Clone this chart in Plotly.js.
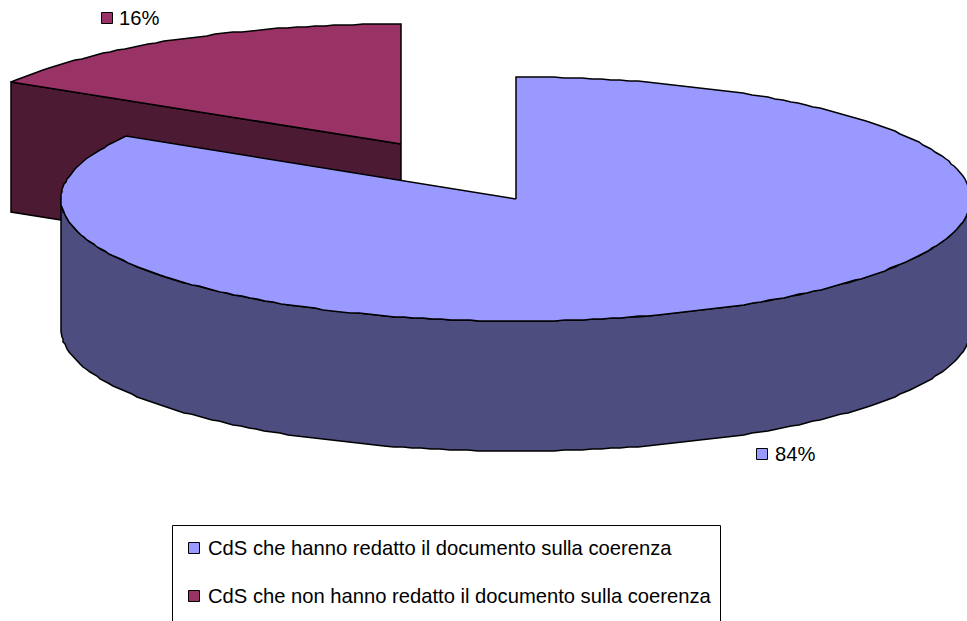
<!DOCTYPE html>
<html>
<head>
<meta charset="utf-8">
<script src="https://cdn.plot.ly/plotly-3.0.1.min.js"></script>
<style>html,body{margin:0;padding:0;background:#fff}#chart{width:967px;height:621px}</style>
</head>
<body>
<div id="chart"></div>
<script>
const categories = ["CdS che hanno redatto il documento sulla coerenza", "CdS che non hanno redatto il documento sulla coerenza"];
const shares = [83.6, 16.4];
const topColors = ["#9999FF", "#993366"];
const wallColors = ["#4D4D80", "#4D1A33"];

const W = 967, H = 621;
const RX = 455, DEPTH = 130;
const mainPie = {cx: 516, cy: 199, ry: 122};
const outPie = {cx: 401, cy: 144, ry: 120};
const endAngle = shares[0] / (shares[0] + shares[1]) * 360;

function pt(p, deg, dy){
  const r = deg * Math.PI / 180;
  return [Math.round(p.cx + RX * Math.sin(r)), Math.round(p.cy - p.ry * Math.cos(r)) + (dy || 0)];
}
function arc(p, a0, a1, dy){
  const out = [], n = Math.max(2, Math.round(Math.abs(a1 - a0) / 1.2));
  for (let i = 0; i <= n; i++) out.push(pt(p, a0 + (a1 - a0) * i / n, dy));
  return out;
}
function poly(points, fill){
  return {
    type: "scatter", mode: "lines", x: points.map(q => q[0]), y: points.map(q => q[1]),
    fill: "toself", fillcolor: fill, line: {color: "#000", width: 1.5},
    hoverinfo: "skip", showlegend: false
  };
}
const apexBlue = [mainPie.cx, mainPie.cy], apexRed = [outPie.cx, outPie.cy];
const redEnd = pt(outPie, endAngle);

const traces = [
  poly([apexRed, redEnd, [redEnd[0], redEnd[1] + DEPTH], [apexRed[0], apexRed[1] + DEPTH], apexRed], wallColors[1]),
  poly([apexRed, ...arc(outPie, endAngle, 360), apexRed], topColors[1]),
  poly([...arc(mainPie, 90, 270, 0).reverse(), ...arc(mainPie, 90, 270, DEPTH)].concat([pt(mainPie, 270, 0)]), wallColors[0]),
  poly([apexBlue, ...arc(mainPie, 0, endAngle), apexBlue], topColors[0])
];

const swatchX = [107, 762, 194, 194];
const swatchY = [18, 454, 548, 596];
const swatchC = [topColors[1], topColors[0], topColors[0], topColors[1]];
traces.push({
  type: "scatter", mode: "markers", x: swatchX, y: swatchY,
  marker: {symbol: "square", size: 11, color: swatchC, line: {color: "#000", width: 1}},
  hoverinfo: "skip", showlegend: false, cliponaxis: false
});

const font = {family: "Liberation Sans, Arial, sans-serif", size: 20.2, color: "#000"};
function label(x, y, text){
  return {x, y, text, xref: "x", yref: "y", xanchor: "left", yanchor: "middle", showarrow: false, font, borderpad: 0};
}
const pct = shares.map(v => Math.round(v) + "%");

Plotly.newPlot("chart", traces, {
  width: W, height: H, margin: {l: 0, r: 0, t: 0, b: 0},
  paper_bgcolor: "#fff", plot_bgcolor: "#fff", showlegend: false,
  xaxis: {range: [0, W], visible: false, fixedrange: true},
  yaxis: {range: [H, 0], visible: false, fixedrange: true},
  shapes: [{type: "rect", xref: "x", yref: "y", x0: 172.5, x1: 720.5, y0: 525.5, y1: 640, line: {color: "#000", width: 1}, fillcolor: "rgba(0,0,0,0)", layer: "below"}],
  annotations: [
    label(118, 18, pct[1]),
    label(774, 454, pct[0]),
    label(207, 548, categories[0]),
    label(207, 596, categories[1])
  ]
}, {displayModeBar: false, staticPlot: true});
</script>
</body>
</html>
